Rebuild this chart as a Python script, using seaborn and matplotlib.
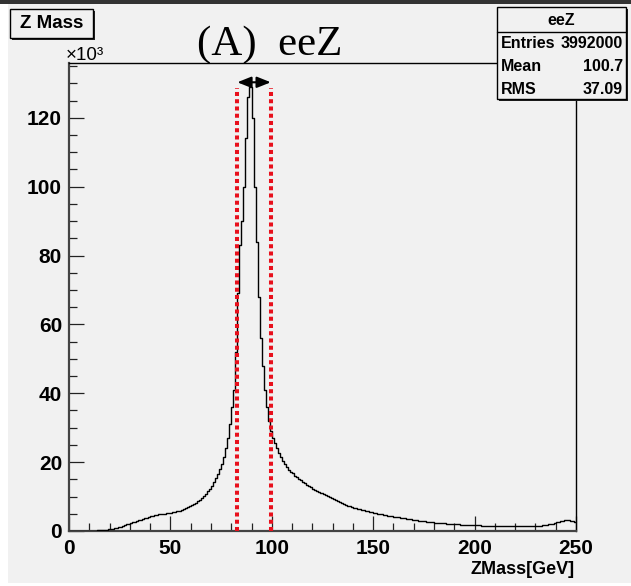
import numpy as np
import pandas as pd
import matplotlib
matplotlib.use("Agg")
import matplotlib.pyplot as plt
import seaborn as sns
from matplotlib.patches import Rectangle
from matplotlib.ticker import MultipleLocator, FixedLocator
from matplotlib import font_manager

# ---------------- data (counts in units of 10^3, 1 GeV bins from 0 to 250) -------------
bin_width = 1.0
x_min, x_max = 0.0, 250.0
counts_k = [
    0, 0, 0, 0, 0, 0, 0, 0, 0, 0,
    0.03, 0.05, 0.08, 0.1, 0.15, 0.2, 0.25, 0.3, 0.4, 0.5,
    0.6, 0.7, 0.85, 1.0, 1.15, 1.3, 1.5, 1.7, 1.9, 2.1,
    2.3, 2.5, 2.7, 2.9, 3.1, 3.3, 3.5, 3.7, 3.9, 4.1,
    4.3, 4.5, 4.6, 4.7, 4.8, 4.9, 4.95, 5.0, 5.1, 5.2,
    5.3, 5.4, 5.5, 5.7, 5.9, 6.1, 6.3, 6.6, 6.9, 7.2,
    7.5, 7.8, 8.2, 8.6, 9.1, 9.6, 10.2, 10.8, 11.5, 12.3,
    13.2, 14.2, 15.3, 16.5, 18.0, 19.5, 21.5, 24.0, 27.0, 31.0,
    36.0, 41.0, 52.0, 69.0, 83.0, 90.0, 100.0, 114.0, 126.0, 129.0,
    120.0, 100.0, 84.0, 68.0, 56.0, 48.0, 41.0, 36.0, 32.0, 29.0,
    27.0, 25.5, 24.0, 22.7, 21.5, 20.4, 19.4, 18.6, 17.8, 17.2,
    16.7, 16.1, 15.6, 15.1, 14.7, 14.3, 13.9, 13.5, 13.1, 12.7,
    12.3, 11.9, 11.6, 11.3, 11.0, 10.7, 10.4, 10.1, 9.8, 9.5,
    9.2, 8.9, 8.6, 8.35, 8.1, 7.85, 7.6, 7.4, 7.2, 7.0,
    6.8, 6.6, 6.45, 6.3, 6.15, 6.0, 5.85, 5.7, 5.55, 5.4,
    5.25, 5.1, 5.0, 4.9, 4.8, 4.7, 4.6, 4.5, 4.4, 4.3,
    4.2, 4.1, 4.0, 3.9, 3.8, 3.7, 3.6, 3.5, 3.4, 3.3,
    3.2, 3.1, 3.0, 2.95, 2.9, 2.8, 2.75, 2.7, 2.6, 2.5,
    2.45, 2.4, 2.35, 2.3, 2.25, 2.2, 2.15, 2.1, 2.05, 2.0,
    1.95, 1.9, 1.9, 1.85, 1.8, 1.8, 1.75, 1.75, 1.7, 1.7,
    1.65, 1.62, 1.6, 1.58, 1.56, 1.54, 1.52, 1.5, 1.5, 1.48,
    1.47, 1.46, 1.45, 1.45, 1.45, 1.45, 1.45, 1.45, 1.45, 1.45,
    1.45, 1.45, 1.45, 1.45, 1.45, 1.45, 1.45, 1.5, 1.45, 1.45,
    1.45, 1.5, 1.55, 1.6, 1.7, 1.8, 1.9, 2.0, 2.1, 2.3,
    2.5, 2.65, 2.8, 2.95, 3.05, 3.1, 3.05, 3.0, 2.9, 2.75,
]
window_edges = [83.0, 99.5]          # red dotted mass-window lines (GeV)
x_ticks = [0, 50, 100, 150, 200, 250]
y_ticks = [0, 20, 40, 60, 80, 100, 120]

title_text = "(A)  eeZ"
box_title = "Z Mass"
x_label = "ZMass[GeV]"
stats_name = "eeZ"
stats_rows = [("Entries", "3992000"), ("Mean", "100.7"), ("RMS", "37.09")]

# ---------------- style ----------------
sns.set_theme(style="ticks")
names = {f.name for f in font_manager.fontManager.ttflist}
NARROW = "Liberation Sans Narrow" if "Liberation Sans Narrow" in names else "Liberation Sans"
plt.rcParams["font.family"] = [NARROW, "DejaVu Sans"]

BG = "#f1f1f1"
W, H = 631, 586
def fx(x): return x / W
def fy(y): return 1 - y / H

fig = plt.figure(figsize=(W / 100, H / 100), dpi=100, facecolor="white")
fig.add_artist(Rectangle((fx(8), fy(583)), fx(631) - fx(8), fy(4) - fy(583),
                         transform=fig.transFigure, facecolor=BG, edgecolor="none", zorder=0))
fig.add_artist(Rectangle((0, fy(4)), 1, 4 / H, transform=fig.transFigure,
                         facecolor="#333333", edgecolor="none", zorder=0))

ax = fig.add_axes([fx(69), fy(531), fx(576) - fx(69), fy(63) - fy(531)])
ax.set_facecolor("none")

n = len(counts_k)
centers = x_min + bin_width * (np.arange(n) + 0.5)
df = pd.DataFrame({"zmass": centers, "count": counts_k})
sns.histplot(data=df, x="zmass", weights="count", binwidth=bin_width,
             binrange=(x_min, x_min + n * bin_width), element="step",
             fill=False, color="black", linewidth=1.0, ax=ax, zorder=3)

ax.set_xlim(x_min, x_max)
ax.set_ylim(0, 135.9)
ax.set_xlabel("")
ax.set_ylabel("")

# red dotted window lines and double arrow
for xv in window_edges:
    ax.plot([xv, xv], [0, 128.5], color="#e8101c", lw=2.9,
            linestyle=(0, (1.0, 0.8)), zorder=4, solid_capstyle="butt")
ax.annotate("", xy=(window_edges[0], 130.3), xytext=(window_edges[1], 130.3),
            arrowprops=dict(arrowstyle="<|-|>,head_length=0.75,head_width=0.3",
                            color="black", lw=1.5, shrinkA=0, shrinkB=0,
                            mutation_scale=11), zorder=5)

# ticks
ax.xaxis.set_major_locator(FixedLocator(x_ticks))
ax.xaxis.set_minor_locator(MultipleLocator(10))
ax.yaxis.set_major_locator(FixedLocator(y_ticks))
ax.yaxis.set_minor_locator(MultipleLocator(5))
ax.tick_params(axis="both", which="major", direction="in", length=11, width=0.9,
               color="#222222", labelsize=15, pad=5)
ax.tick_params(axis="both", which="minor", direction="in", length=5.5, width=0.9,
               color="#222222")
ax.tick_params(axis="x", which="major", pad=6)
ax.set_xticklabels([str(v) for v in x_ticks], fontweight="bold", fontsize=15, color="black")
ax.set_yticklabels([str(v) for v in y_ticks], fontweight="bold", fontsize=15, color="black")

for side in ["left", "bottom"]:
    ax.spines[side].set_color("#444444")
    ax.spines[side].set_linewidth(1.6)
for side in ["top", "right"]:
    ax.spines[side].set_color("black")
    ax.spines[side].set_linewidth(1.0)

# texts
fig.text(fx(270), fy(55), title_text, family=["Liberation Serif", "DejaVu Serif"],
         fontsize=31, ha="center", va="baseline", color="black")
fig.text(fx(66), fy(60), "\u00d710\u00b3", fontsize=13.5, ha="left", va="baseline", color="black")
fig.text(fx(575), fy(570), x_label, fontsize=13, fontweight="bold", ha="right",
         va="center", color="black")

# "Z Mass" title box with shadow
fig.add_artist(Rectangle((fx(12), fy(40)), fx(93) - fx(10), fy(9) - fy(38),
                         transform=fig.transFigure, facecolor="#222222", edgecolor="none", zorder=6))
fig.add_artist(Rectangle((fx(10), fy(38)), fx(93) - fx(10), fy(9) - fy(38),
                         transform=fig.transFigure, facecolor=BG, edgecolor="black", lw=1.0, zorder=7))
fig.text(fx(51.5), fy(23.5), box_title, fontsize=13.5, fontweight="bold", ha="center",
         va="center", color="black", zorder=8)

# stats box with shadow
sx0, sx1, sy0, sy1 = 497, 626, 7, 99
fig.add_artist(Rectangle((fx(sx0 + 2), fy(sy1 + 2)), fx(sx1) - fx(sx0), fy(sy0) - fy(sy1),
                         transform=fig.transFigure, facecolor="#222222", edgecolor="none", zorder=6))
fig.add_artist(Rectangle((fx(sx0), fy(sy1)), fx(sx1) - fx(sx0), fy(sy0) - fy(sy1),
                         transform=fig.transFigure, facecolor=BG, edgecolor="black", lw=1.0, zorder=7))
fig.add_artist(plt.Line2D([fx(sx0), fx(sx1)], [fy(31.5), fy(31.5)], transform=fig.transFigure,
                          color="black", lw=1.0, zorder=8))
fig.text(fx((sx0 + sx1) / 2), fy(20.5), stats_name, fontsize=11.5, fontweight="bold",
         ha="center", va="center", color="black", zorder=9)
for i, (k, v) in enumerate(stats_rows):
    yy = 44 + i * 22.5
    fig.text(fx(sx0 + 4), fy(yy), k, fontsize=11.5, fontweight="bold", ha="left",
             va="center", color="black", zorder=9)
    fig.text(fx(sx1 - 3), fy(yy), v, fontsize=11.5, fontweight="bold", ha="right",
             va="center", color="black", zorder=9)

fig.savefig("out.png", dpi=100, facecolor=fig.get_facecolor())
